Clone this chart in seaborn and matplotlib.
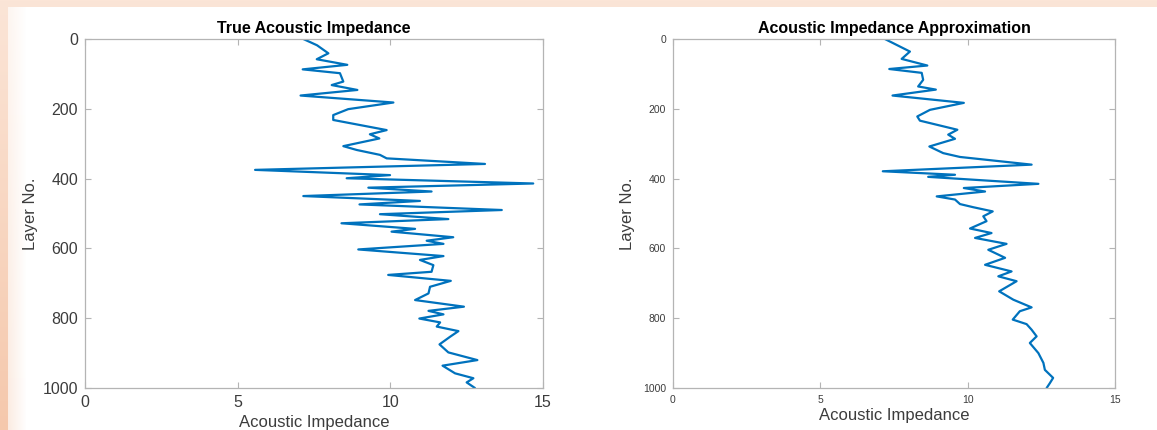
import numpy as np
import pandas as pd
import matplotlib
matplotlib.use("Agg")
import matplotlib.pyplot as plt
import seaborn as sns

# True impedance log (layer number, impedance)
true_layer = [0, 18, 41, 58, 74, 87, 98, 122, 132, 146, 162, 182, 201, 218, 232,
              261, 273, 285, 307, 318, 332, 342, 358, 375, 390, 399, 414, 426, 437,
              450, 464, 474, 490, 502, 516, 528, 544, 552, 568, 578, 587, 603, 622,
              633, 648, 667, 676, 693, 710, 729, 748, 767, 779, 789, 801, 812, 824,
              837, 853, 875, 898, 920, 936, 958, 972, 984, 1000]
true_imp = [7.15, 7.6, 7.97, 7.59, 8.59, 7.13, 8.35, 8.46, 8.08, 8.92, 7.06, 10.1,
            8.62, 8.13, 8.13, 9.88, 9.33, 9.64, 8.46, 8.9, 9.66, 9.88, 13.1, 5.57,
            9.99, 8.57, 14.68, 9.28, 11.35, 7.15, 10.97, 8.99, 13.65, 9.66, 11.9,
            8.4, 10.81, 10.04, 12.06, 11.19, 11.74, 8.95, 11.74, 10.97, 11.41,
            11.35, 9.93, 11.98, 11.3, 11.25, 10.81, 12.41, 11.25, 11.74, 10.95,
            11.63, 11.52, 12.23, 11.96, 11.61, 11.9, 12.85, 11.71, 12.12, 12.72,
            12.5, 12.77]

# Reconstructed impedance log
approx_layer = [0, 36, 57, 76, 86, 97, 117, 136, 145, 162, 183, 203, 222, 234, 260,
                274, 286, 308, 327, 338, 360, 379, 389, 395, 415, 427, 437, 451, 460,
                473, 482, 494, 508, 522, 543, 556, 570, 587, 604, 627, 647, 666, 680,
                694, 723, 747, 769, 780, 804, 817, 833, 852, 871, 900, 928, 948, 971,
                986, 1000]
approx_imp = [7.19, 8.04, 7.76, 8.63, 7.34, 8.44, 8.49, 8.32, 8.92, 7.45, 9.87, 8.72,
              8.29, 8.38, 9.65, 9.34, 9.57, 8.7, 9.17, 9.74, 12.17, 7.12, 9.57, 8.66,
              12.4, 9.87, 10.59, 8.95, 9.57, 9.74, 10.19, 10.85, 10.53, 10.64, 10.08,
              10.81, 10.25, 11.32, 10.7, 11.27, 10.59, 11.49, 11.04, 11.66, 11.07,
              11.55, 12.17, 11.77, 11.53, 12.0, 12.17, 12.34, 12.11, 12.4, 12.57,
              12.62, 12.9, 12.79, 12.68]

x_ticks = [0, 5, 10, 15]
y_ticks = [0, 200, 400, 600, 800, 1000]
titles = ["True Acoustic Impedance", "Acoustic Impedance Approximation"]

sns.set_theme(style="white")
plt.rcParams["font.family"] = ["Liberation Sans", "DejaVu Sans"]

W, H = 1157, 430
fig = plt.figure(figsize=(W / 100, H / 100), dpi=100)

# Peach backdrop with a white panel
bg = fig.add_axes([0, 0, 1, 1], zorder=-10)
yy, xx = np.mgrid[0:H, 0:W]
peach_top = np.array([251, 229, 215]) / 255
peach_left = np.array([245, 200, 172]) / 255
t = np.clip(yy / H, 0, 1)[..., None]
base = peach_top * (1 - t) + peach_left * t
img = base.copy()
panel = (xx >= 8) & (yy >= 7)
fade = np.clip((xx - 8) / 18.0, 0, 1)[..., None]
tint = base * 0.35 + 0.65
panel_col = tint * (1 - fade) + 1.0 * fade
img[panel] = panel_col[panel]
bg.imshow(img, extent=[0, W, H, 0], aspect="auto")
bg.set_axis_off()

line_color = "#0072BD"
axes_specs = [
    dict(rect=[85 / W, 42 / H, 458 / W, 349 / H], tick_fs=11.5, xpad=4, ypad=3,
         layer=true_layer, imp=true_imp),
    dict(rect=[673 / W, 42 / H, 442 / W, 349 / H], tick_fs=7.5, xpad=2, ypad=6,
         layer=approx_layer, imp=approx_imp),
]

for spec, title in zip(axes_specs, titles):
    ax = fig.add_axes(spec["rect"])
    df = pd.DataFrame({"Acoustic Impedance": spec["imp"], "Layer No.": spec["layer"]})
    sns.lineplot(data=df, x="Acoustic Impedance", y="Layer No.", sort=False,
                 estimator=None, orient="y", color=line_color, linewidth=1.6,
                 solid_joinstyle="round", ax=ax)
    ax.set_xlim(0, 15)
    ax.set_ylim(1000, 0)
    ax.set_xticks(x_ticks)
    ax.set_yticks(y_ticks)
    ax.set_facecolor("white")
    for s in ax.spines.values():
        s.set_visible(True)
        s.set_color("#b4b4b4")
        s.set_linewidth(0.9)
    ax.tick_params(direction="in", length=4, width=0.8, color="#b4b4b4",
                   top=True, right=True, bottom=True, left=True,
                   labelsize=spec["tick_fs"], labelcolor="#3c3c3c", pad=5)
    ax.set_title(title, fontsize=11.5, fontweight="bold", color="black", pad=4)
    ax.set_xlabel("Acoustic Impedance", fontsize=12, color="#3c3c3c",
                  labelpad=spec["xpad"])
    ax.set_ylabel("Layer No.", fontsize=12, color="#3c3c3c", labelpad=spec["ypad"])

fig.savefig("out.png", dpi=100)
